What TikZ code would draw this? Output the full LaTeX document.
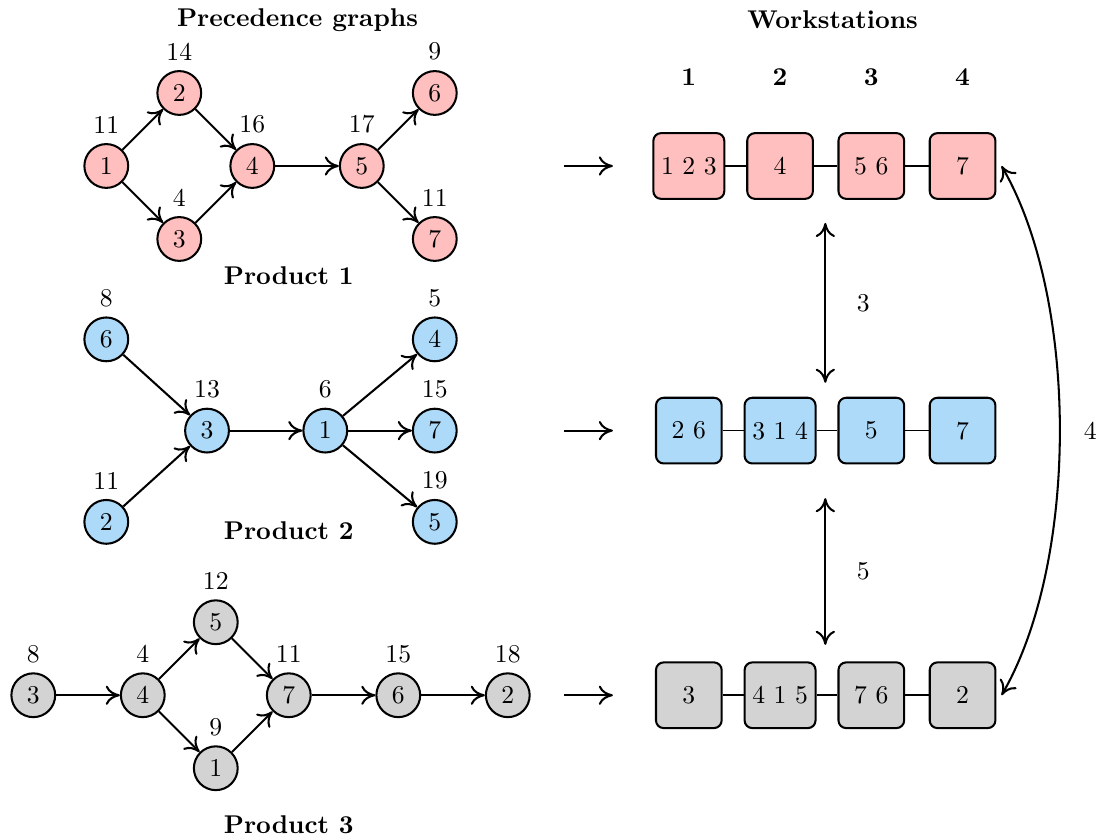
\documentclass[tikz,border=0pt]{standalone}
\usepackage{tikz}
\usepackage{amsmath}
\usepackage{amssymb}
\usetikzlibrary{arrows.meta}

\definecolor{pinkjob}{RGB}{255,191,191}
\definecolor{bluejob}{RGB}{173,218,248}
\definecolor{grayjob}{RGB}{211,211,211}

\begin{document}
\begin{tikzpicture}[auto,thick,>={Computer Modern Rightarrow[length=5.5pt,width=7.5pt]},
        job/.style={circle,draw=black,minimum size=6mm,inner sep=0pt},
        station/.style={rectangle,rounded corners=3pt,draw=black,minimum size=9mm,inner sep=3pt},
        heading/.style={font=\bfseries}]
            \useasboundingbox (-1.456,-9.19) rectangle (13.64,2.274);
            % titles
            \node[heading] (ptitle) at (2.62,2) {Precedence graphs};
            \node[heading] (wtitle) at (9.95,2) {Workstations};
            \node[heading] (h1) at (7.98,1.22) {1};
            \node[heading] (h2) at (9.23,1.22) {2};
            \node[heading] (h3) at (10.48,1.22) {3};
            \node[heading] (h4) at (11.73,1.22) {4};
            % product 1
            \begin{scope}[job/.append style={fill=pinkjob}]
                \node[job,label=above:11] (a1) at (0,0) {$1$};
                \node[job,label=above:14] (a2) at (1,1) {$2$};
                \node[job,label=above:4] (a3) at (1,-1) {$3$};
                \node[job,label=above:16] (a4) at (2,0) {$4$};
                \node[job,label=above:17] (a5) at (3.5,0) {$5$};
                \node[job,label=above:9] (a6) at (4.5,1) {$6$};
                \node[job,label=above:11] (a7) at (4.5,-1) {$7$};
            \end{scope}
            \node[heading] (prod1) at (2.5,-1.5) {Product 1};
            \draw (a1) edge [->] (a2);
            \draw (a1) edge [->] (a3);
            \draw (a2) edge [->] (a4);
            \draw (a3) edge [->] (a4);
            \draw (a4) edge [->] (a5);
            \draw (a5) edge [->] (a6);
            \draw (a5) edge [->] (a7);
            % product 2
            \begin{scope}[job/.append style={fill=bluejob}]
                \node[job,label=above:8] (b6) at (0,-2.375) {$6$};
                \node[job,label=above:11] (b2) at (0,-4.875) {$2$};
                \node[job,label=above:13] (b3) at (1.38,-3.625) {$3$};
                \node[job,label=above:6] (b1) at (3,-3.625) {$1$};
                \node[job,label=above:5] (b4) at (4.5,-2.375) {$4$};
                \node[job,label=above:15] (b7) at (4.5,-3.625) {$7$};
                \node[job,label=above:19] (b5) at (4.5,-4.875) {$5$};
            \end{scope}
            \node[heading] (prod2) at (2.5,-5) {Product 2};
            \draw (b6) edge [->] (b3);
            \draw (b2) edge [->] (b3);
            \draw (b3) edge [->] (b1);
            \draw (b1) edge [->] (b4);
            \draw (b1) edge [->] (b7);
            \draw (b1) edge [->] (b5);
            % product 3
            \begin{scope}[job/.append style={fill=grayjob}]
                \node[job,label=above:8] (c3) at (-1,-7.25) {$3$};
                \node[job,label=above:4] (c4) at (0.5,-7.25) {$4$};
                \node[job,label=above:12] (c5) at (1.5,-6.25) {$5$};
                \node[job,label=above:9] (c1) at (1.5,-8.25) {$1$};
                \node[job,label=above:11] (c7) at (2.5,-7.25) {$7$};
                \node[job,label=above:15] (c6) at (4,-7.25) {$6$};
                \node[job,label=above:18] (c2) at (5.5,-7.25) {$2$};
            \end{scope}
            \node[heading] (prod3) at (2.5,-9.02) {Product 3};
            \draw (c3) edge [->] (c4);
            \draw (c4) edge [->] (c5);
            \draw (c4) edge [->] (c1);
            \draw (c5) edge [->] (c7);
            \draw (c1) edge [->] (c7);
            \draw (c7) edge [->] (c6);
            \draw (c6) edge [->] (c2);
            % workstations
            \begin{scope}[station/.append style={fill=pinkjob}]
                \node[station] (wa1) at (7.98,0) {1 2 3};
                \node[station] (wa2) at (9.23,0) {4};
                \node[station] (wa3) at (10.48,0) {5 6};
                \node[station] (wa4) at (11.73,0) {7};
            \end{scope}
            \begin{scope}[station/.append style={fill=bluejob}]
                \node[station] (wb1) at (7.98,-3.625) {2 6};
                \node[station] (wb2) at (9.23,-3.625) {3 1 4};
                \node[station] (wb3) at (10.48,-3.625) {5};
                \node[station] (wb4) at (11.73,-3.625) {7};
            \end{scope}
            \begin{scope}[station/.append style={fill=grayjob}]
                \node[station] (wc1) at (7.98,-7.25) {3};
                \node[station] (wc2) at (9.23,-7.25) {4 1 5};
                \node[station] (wc3) at (10.48,-7.25) {7 6};
                \node[station] (wc4) at (11.73,-7.25) {2};
            \end{scope}
            \draw[semithick] (wa1) edge (wa2) (wa2) edge (wa3) (wa3) edge (wa4);
            \draw[semithick] (wb1) edge (wb2) (wb2) edge (wb3) (wb3) edge (wb4);
            \draw[semithick] (wc1) edge (wc2) (wc2) edge (wc3) (wc3) edge (wc4);
            % feeding arrows
            \coordinate (ina) at (6.27,0);
            \coordinate (outa) at (6.94,0);
            \coordinate (inb) at (6.27,-3.625);
            \coordinate (outb) at (6.94,-3.625);
            \coordinate (inc) at (6.27,-7.25);
            \coordinate (outc) at (6.94,-7.25);
            \draw (ina) edge [->] (outa);
            \draw (inb) edge [->] (outb);
            \draw (inc) edge [->] (outc);
            % changeover arrows
            \coordinate (u1) at (9.85,-0.78);
            \coordinate (u2) at (9.85,-2.97);
            \coordinate (u3) at (9.85,-4.55);
            \coordinate (u4) at (9.85,-6.56);
            \draw (u1) edge [<->] node[right=3mm] {3} (u2);
            \draw (u3) edge [<->] node[right=3mm] {5} (u4);
            \draw ([xshift=2pt]wa4.east) edge [<->,bend left=30,looseness=0.75] node[right=2mm] {4} ([xshift=2pt]wc4.east);
        \end{tikzpicture}
\end{document}
